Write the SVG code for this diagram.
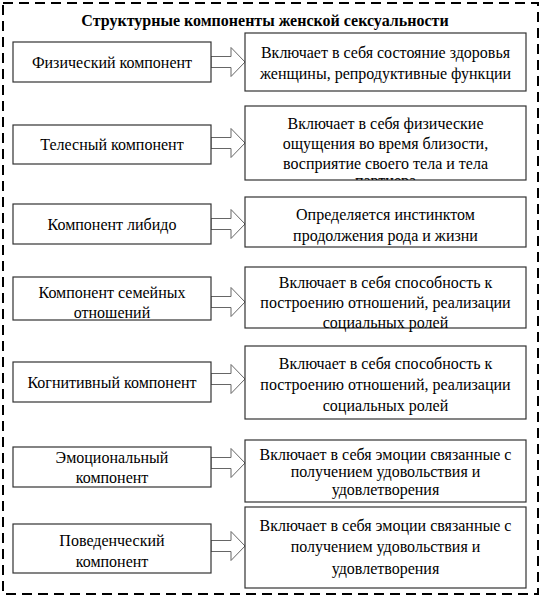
<svg xmlns="http://www.w3.org/2000/svg" width="542" height="598" viewBox="0 0 542 598">
<style>
.frame{fill:none;stroke:#000;stroke-width:2;stroke-dasharray:10 6}
.box{fill:#fff;stroke:#333;stroke-width:1.2}
.arr{fill:#fff;stroke:#666;stroke-width:1}
text{font-family:"Liberation Serif","Times New Roman",serif;font-size:16px;fill:#000;text-anchor:middle}
.title{font-weight:bold}
</style>
<defs>
<clipPath id="clip2"><rect x="245" y="106" width="281" height="74"/></clipPath>
</defs>
<rect class="frame" x="3" y="3" width="535" height="591"/>
<text class="title" x="265" y="26">Структурные компоненты женской сексуальности</text>

<g id="connectors">
<polygon class="arr" points="211,56.5 231,56.5 231,47.5 245,62 231,76.5 231,67.5 211,67.5"/>
<polygon class="arr" points="211,137.5 231,137.5 231,128.5 245,143 231,157.5 231,148.5 211,148.5"/>
<polygon class="arr" points="211,218.5 231,218.5 231,209.5 245,224 231,238.5 231,229.5 211,229.5"/>
<polygon class="arr" points="211,296.5 231,296.5 231,287.5 245,302 231,316.5 231,307.5 211,307.5"/>
<polygon class="arr" points="211,373.5 231,373.5 231,364.5 245,379 231,393.5 231,384.5 211,384.5"/>
<polygon class="arr" points="211,457.5 231,457.5 231,448.5 245,463 231,477.5 231,468.5 211,468.5"/>
<polygon class="arr" points="211,540.5 231,540.5 231,531.5 245,546 231,560.5 231,551.5 211,551.5"/>
</g>

<g id="n1">
<rect class="box" x="13" y="42" width="198" height="40"/>
<text x="112" y="67.5">Физический компонент</text>
</g>
<g id="d1">
<rect class="box" x="245" y="33" width="281" height="58"/>
<text x="385.5" y="57.5">Включает в себя состояние здоровья</text>
<text x="385.5" y="78.5">женщины, репродуктивные функции</text>
</g>

<g id="n2">
<rect class="box" x="13" y="125" width="198" height="39"/>
<text x="112" y="149.5">Телесный компонент</text>
</g>
<g id="d2">
<rect class="box" x="245" y="106" width="281" height="74"/>
<g clip-path="url(#clip2)">
<text x="385.5" y="128.5">Включает в себя физические</text>
<text x="385.5" y="148.5">ощущения во время близости,</text>
<text x="385.5" y="168.5">восприятие своего тела и тела</text>
<text x="385.5" y="186">партнера</text>
</g>
</g>

<g id="n3">
<rect class="box" x="13" y="204" width="198" height="40"/>
<text x="112" y="229.5">Компонент либидо</text>
</g>
<g id="d3">
<rect class="box" x="245" y="197" width="281" height="50"/>
<text x="385.5" y="219.5">Определяется инстинктом</text>
<text x="385.5" y="240.5">продолжения рода и жизни</text>
</g>

<g id="n4">
<rect class="box" x="13" y="277" width="198" height="43"/>
<text x="112" y="297.5">Компонент семейных</text>
<text x="112" y="317.5">отношений</text>
</g>
<g id="d4">
<rect class="box" x="245" y="267" width="281" height="61"/>
<text x="385.5" y="287.5">Включает в себя способность к</text>
<text x="385.5" y="307.5">построению отношений, реализации</text>
<text x="385.5" y="327.5">социальных ролей</text>
</g>

<g id="n5">
<rect class="box" x="13" y="362" width="198" height="40"/>
<text x="112" y="387.5">Когнитивный компонент</text>
</g>
<g id="d5">
<rect class="box" x="245" y="346" width="281" height="73"/>
<text x="385.5" y="368.5">Включает в себя способность к</text>
<text x="385.5" y="389.5">построению отношений, реализации</text>
<text x="385.5" y="410.5">социальных ролей</text>
</g>

<g id="n6">
<rect class="box" x="13" y="447" width="198" height="40"/>
<text x="112" y="462.5">Эмоциональный</text>
<text x="112" y="482.5">компонент</text>
</g>
<g id="d6">
<rect class="box" x="245" y="440" width="281" height="62"/>
<text x="385.5" y="459.5">Включает в себя эмоции связанные с</text>
<text x="385.5" y="476.5">получением удовольствия и</text>
<text x="385.5" y="494.5">удовлетворения</text>
</g>

<g id="n7">
<rect class="box" x="13" y="524" width="198" height="49"/>
<text x="112" y="545.5">Поведенческий</text>
<text x="112" y="566.5">компонент</text>
</g>
<g id="d7">
<rect class="box" x="245" y="507" width="281" height="81"/>
<text x="385.5" y="530.5">Включает в себя эмоции связанные с</text>
<text x="385.5" y="551.5">получением удовольствия и</text>
<text x="385.5" y="573.5">удовлетворения</text>
</g>
</svg>
